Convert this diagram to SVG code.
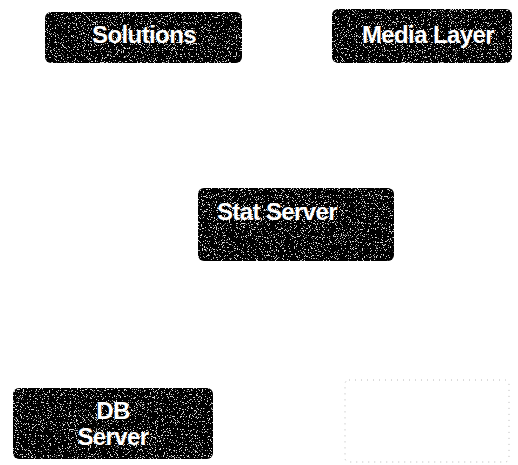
<svg xmlns="http://www.w3.org/2000/svg" width="518" height="465" viewBox="0 0 518 465">
  <defs>
    <!-- sparse grainy speckle texture for the dark boxes -->
    <filter id="grain" x="0" y="0" width="100%" height="100%">
      <feTurbulence type="fractalNoise" baseFrequency="0.85" numOctaves="2" seed="7" result="n"/>
      <feColorMatrix in="n" type="matrix" values="0 0 0 0 0.75  0 0 0 0 0.75  0 0 0 0 0.75  22 0 0 0 -13.6" result="specks"/>
      <feComposite in="specks" in2="SourceGraphic" operator="in" result="clipped"/>
      <feMerge>
        <feMergeNode in="SourceGraphic"/>
        <feMergeNode in="clipped"/>
      </feMerge>
    </filter>
    <style>
      .box { fill: #050505; filter: url(#grain); }
      .lbl { fill: #ffffff; font-family: "Liberation Sans", Arial, sans-serif; font-weight: bold; font-size: 24px; text-anchor: middle; letter-spacing: -0.6px; }
      .faint { fill: none; stroke: #b8b8b8; stroke-width: 1; stroke-dasharray: 1 5; }
    </style>
  </defs>

  <g id="connectors"/>

  <g id="solutions">
    <rect class="box" x="45" y="12" width="197" height="51" rx="6"/>
    <text class="lbl" x="144" y="43">Solutions</text>
  </g>

  <g id="media-layer">
    <rect class="box" x="332" y="9" width="180" height="54" rx="6"/>
    <text class="lbl" x="428" y="43">Media Layer</text>
  </g>

  <g id="stat-server">
    <rect class="box" x="198" y="188" width="196" height="73" rx="6"/>
    <text class="lbl" x="277" y="220">Stat Server</text>
  </g>

  <g id="db-server">
    <rect class="box" x="13" y="388" width="200" height="71" rx="6"/>
    <text class="lbl" x="113" y="419">DB</text>
    <text class="lbl" x="113" y="445">Server</text>
  </g>

  <g id="faint-box">
    <rect class="faint" x="345" y="380" width="164" height="82" rx="4"/>
  </g>
</svg>
